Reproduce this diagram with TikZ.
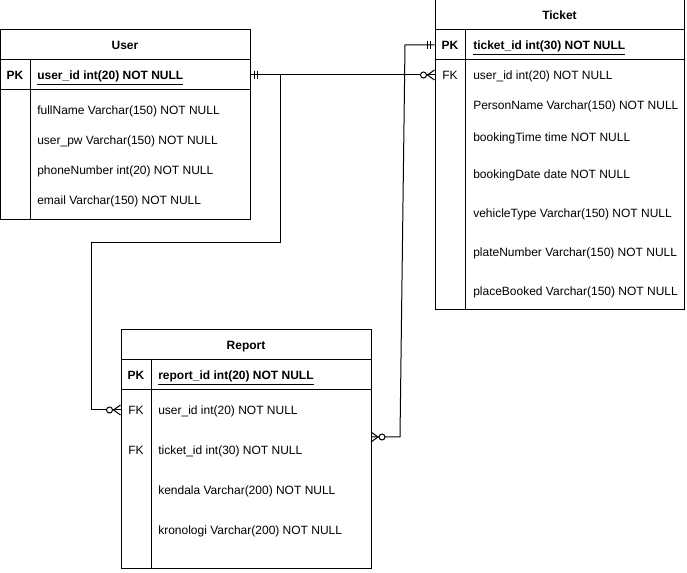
\documentclass[tikz,border=0pt]{standalone}
\usepackage{fontspec}
\setmainfont{Liberation Sans}
\usetikzlibrary{fit}

\begin{document}
\begin{tikzpicture}[
    x=0.75pt, y=-0.75pt,
    cell/.style={rectangle, draw=black, line width=0.75pt, inner sep=0pt, fit={#1}},
    title/.style={anchor=base, inner sep=0pt, font=\fontsize{9}{11}\selectfont\bfseries},
    key/.style={anchor=base, inner sep=0pt, font=\fontsize{9}{11}\selectfont},
    pkey/.style={anchor=base, inner sep=0pt, font=\fontsize{9}{11}\selectfont\bfseries},
    field/.style={anchor=base west, inner sep=0pt, font=\fontsize{9}{11}\selectfont},
    pfield/.style={anchor=base west, inner sep=0pt, font=\fontsize{9}{11}\selectfont\bfseries},
    conn/.style={draw=black, line width=0.75pt},
    mandone/.pic={\draw[line width=0.75pt] (-4,-4) -- (-4,4) (-7,-4) -- (-7,4);},
    zeromany/.pic={\draw[line width=0.75pt] (0,-5) -- (-7,0) -- (0,5);
        \draw[line width=0.75pt, fill=white] (-11,0) circle (2.25pt);}
]
\useasboundingbox (0,0) rectangle (687,573);

% User
\node (usertitle) [cell={(0,30) (250,60)}] {};
\node (userpkkey) [cell={(0,60) (30,90)}] {};
\node (userpkfield) [cell={(30,60) (250,90)}] {};
\node (userkeys) [cell={(0,90) (30,220)}] {};
\node (userfields) [cell={(30,90) (250,220)}] {};
\node (username) [title] at (125,49.5) {User};
\node (userpk) [pkey] at (15,79.5) {PK};
\node (userid) [pfield] at (37,79.5) {\underline{user\_id int(20) NOT NULL}};
\node (fullname) [field] at (37,114.5) {fullName Varchar(150) NOT NULL};
\node (userpw) [field] at (37,144.5) {user\_pw Varchar(150) NOT NULL};
\node (phone) [field] at (37,174.5) {phoneNumber int(20) NOT NULL};
\node (email) [field] at (37,204.5) {email Varchar(150) NOT NULL};

% Ticket
\node (tickettitle) [cell={(435,0) (684,30)}] {};
\node (ticketpkkey) [cell={(435,30) (465,60)}] {};
\node (ticketpkfield) [cell={(465,30) (684,60)}] {};
\node (ticketkeys) [cell={(435,60) (465,310)}] {};
\node (ticketfields) [cell={(465,60) (684,310)}] {};
\node (ticketname) [title] at (559.5,19.5) {Ticket};
\node (ticketpk) [pkey] at (450,49.5) {PK};
\node (ticketfk) [key] at (450,79.5) {FK};
\node (ticketid) [pfield] at (473,49.5) {\underline{ticket\_id int(30) NOT NULL}};
\node (tuserid) [field] at (473,79.5) {user\_id int(20) NOT NULL};
\node (person) [field] at (473,109.5) {PersonName Varchar(150) NOT NULL};
\node (btime) [field] at (473,141.5) {bookingTime time NOT NULL};
\node (bdate) [field] at (473,178.5) {bookingDate date NOT NULL};
\node (vehicle) [field] at (473,217.5) {vehicleType Varchar(150) NOT NULL};
\node (plate) [field] at (473,256.5) {plateNumber Varchar(150) NOT NULL};
\node (place) [field] at (473,295.5) {placeBooked Varchar(150) NOT NULL};

% Report
\node (reporttitle) [cell={(121,330) (371,360)}] {};
\node (reportpkkey) [cell={(121,360) (151,390)}] {};
\node (reportpkfield) [cell={(151,360) (371,390)}] {};
\node (reportkeys) [cell={(121,390) (151,569)}] {};
\node (reportfields) [cell={(151,390) (371,569)}] {};
\node (reportname) [title] at (246,349.5) {Report};
\node (reportpk) [pkey] at (136,379.5) {PK};
\node (reportfkuser) [key] at (136,414.5) {FK};
\node (reportfkticket) [key] at (136,454.5) {FK};
\node (reportid) [pfield] at (158,379.5) {\underline{report\_id int(20) NOT NULL}};
\node (ruserid) [field] at (158,414.5) {user\_id int(20) NOT NULL};
\node (rticketid) [field] at (158,454.5) {ticket\_id int(30) NOT NULL};
\node (kendala) [field] at (158,494.5) {kendala Varchar(200) NOT NULL};
\node (kronologi) [field] at (158,534.5) {kronologi Varchar(200) NOT NULL};

% Connectors
\coordinate (userout) at (userpkfield.east);
\coordinate (ticketin) at (ticketkeys.west |- 0,75);
\coordinate (ticketout) at (ticketpkkey.west);
\coordinate (reportin) at (reportkeys.west |- 0,410);
\coordinate (reportin2) at (371,437);

\draw[conn] (userout) -- (ticketin);
\draw[conn] (userout) -- (280,75) -- (280,243) -- (91,243) -- (91,410) -- (reportin);
\draw[conn] (ticketout) -- (405,45) -- (400,437) -- (reportin2);

\pic at (userout) [rotate=180] {mandone};
\pic at (ticketin) {zeromany};
\pic at (reportin) {zeromany};
\pic at (ticketout) {mandone};
\pic at (reportin2) [rotate=180] {zeromany};

\end{tikzpicture}
\end{document}
